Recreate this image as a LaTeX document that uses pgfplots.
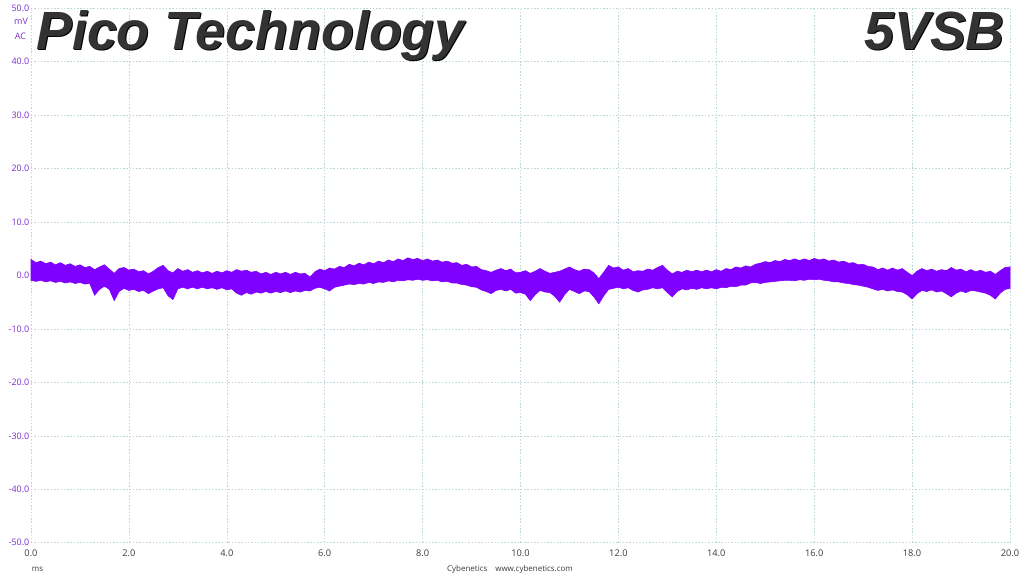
\documentclass[border=0pt]{standalone}
\usepackage{fontspec}
\setmainfont{Open Sans}
\newfontfamily\titlefont{Liberation Sans}
\usepackage{pgfplots}
\pgfplotsset{compat=1.18}
\definecolor{wave}{RGB}{127,0,255}
\definecolor{ylab}{RGB}{125,45,205}
\definecolor{gridc}{RGB}{188,214,220}
\definecolor{xlab}{RGB}{60,60,60}
\begin{document}
\begin{tikzpicture}
\path[use as bounding box, fill=white] (0,0) rectangle (1024bp,576bp);
\begin{axis}[
  at={(31bp,33.3bp)}, anchor=south west,
  scale only axis, width=979bp, height=534.4bp,
  xmin=0, xmax=20, ymin=-50, ymax=50,
  xtick={0,2,...,20}, ytick={-50,-40,...,50},
  xticklabels={0.0,2.0,4.0,6.0,8.0,10.0,12.0,14.0,16.0,18.0,20.0},
  yticklabels={-50.0,-40.0,-30.0,-20.0,-10.0,0.0,10.0,20.0,30.0,40.0,50.0},
  grid=major,
  major grid style={gridc, dash pattern=on 1.5pt off 1.8pt, line width=0.55pt},
  axis line style={draw=none}, tick style={draw=none},
  xticklabel style={font=\fontsize{9.3}{10}\selectfont, text=xlab, anchor=north, inner sep=0pt, yshift=-7bp},
  yticklabel style={font=\fontsize{9}{10}\selectfont, text=ylab, anchor=east, inner sep=0pt, xshift=-1.5bp},
  clip=false,
]
\addplot[draw=wave, fill=wave, line width=0.6pt, line join=miter] coordinates {
(0.0,3.0)(0.1,2.4)(0.2,2.7)(0.3,2.2)(0.4,2.5)(0.5,2.0)(0.6,2.4)(0.7,1.9)(0.8,2.2)(0.9,1.7)
(1.0,2.0)(1.1,1.5)(1.2,1.7)(1.3,1.1)(1.4,1.6)(1.5,2.0)(1.6,1.2)(1.7,0.4)(1.8,1.3)(1.9,1.5)
(2.0,1.0)(2.1,1.2)(2.2,0.7)(2.3,0.9)(2.4,0.3)(2.5,0.8)(2.6,1.5)(2.7,1.9)(2.8,0.9)(2.9,0.5)
(3.0,1.3)(3.1,0.8)(3.2,1.1)(3.3,0.6)(3.4,0.9)(3.5,0.5)(3.6,0.8)(3.7,0.4)(3.8,0.8)(3.9,0.5)
(4.0,0.9)(4.1,0.6)(4.2,1.1)(4.3,0.8)(4.4,1.0)(4.5,0.6)(4.6,0.8)(4.7,0.3)(4.8,0.6)(4.9,0.2)
(5.0,0.6)(5.1,0.3)(5.2,0.6)(5.3,0.2)(5.4,0.6)(5.5,0.3)(5.6,0.4)(5.7,-0.3)(5.8,0.7)(5.9,1.2)
(6.0,0.9)(6.1,1.4)(6.2,1.2)(6.3,1.7)(6.4,1.5)(6.5,2.1)(6.6,1.8)(6.7,2.3)(6.8,2.0)(6.9,2.5)
(7.0,2.2)(7.1,2.7)(7.2,2.4)(7.3,2.9)(7.4,2.6)(7.5,3.1)(7.6,2.8)(7.7,3.3)(7.8,3.0)(7.9,3.2)
(8.0,2.8)(8.1,3.1)(8.2,2.7)(8.3,2.9)(8.4,2.5)(8.5,2.7)(8.6,2.3)(8.7,2.4)(8.8,1.9)(8.9,2.1)
(9.0,1.6)(9.1,1.7)(9.2,1.1)(9.3,0.9)(9.4,0.6)(9.5,1.0)(9.6,1.3)(9.7,0.9)(9.8,1.2)(9.9,0.5)
(10.0,0.6)(10.1,0.9)(10.2,0.4)(10.3,0.8)(10.4,1.3)(10.5,0.8)(10.6,0.4)(10.7,0.6)(10.8,0.8)(10.9,1.2)
(11.0,1.6)(11.1,1.1)(11.2,0.8)(11.3,1.2)(11.4,1.1)(11.5,0.5)(11.6,-0.6)(11.7,0.6)(11.8,1.9)(11.9,1.4)
(12.0,1.6)(12.1,1.0)(12.2,1.3)(12.3,0.7)(12.4,0.9)(12.5,0.8)(12.6,1.2)(12.7,1.0)(12.8,1.5)(12.9,1.9)
(13.0,1.0)(13.1,0.3)(13.2,0.8)(13.3,0.6)(13.4,1.0)(13.5,0.7)(13.6,1.0)(13.7,0.7)(13.8,1.0)(13.9,0.7)
(14.0,1.1)(14.1,0.8)(14.2,1.3)(14.3,1.1)(14.4,1.6)(14.5,1.4)(14.6,1.8)(14.7,1.6)(14.8,2.1)(14.9,2.3)
(15.0,2.6)(15.1,2.4)(15.2,2.8)(15.3,2.6)(15.4,3.0)(15.5,2.8)(15.6,3.1)(15.7,2.8)(15.8,3.1)(15.9,2.8)
(16.0,3.2)(16.1,2.9)(16.2,3.1)(16.3,2.7)(16.4,2.9)(16.5,2.5)(16.6,2.7)(16.7,2.3)(16.8,2.4)(16.9,2.0)
(17.0,2.1)(17.1,1.7)(17.2,1.6)(17.3,1.1)(17.4,1.4)(17.5,1.0)(17.6,1.4)(17.7,1.0)(17.8,1.3)(17.9,0.6)
(18.0,0.0)(18.1,0.8)(18.2,1.3)(18.3,0.9)(18.4,1.2)(18.5,0.8)(18.6,1.1)(18.7,0.9)(18.8,1.5)(18.9,1.0)
(19.0,1.2)(19.1,0.7)(19.2,1.1)(19.3,0.7)(19.4,1.0)(19.5,0.6)(19.6,0.8)(19.7,0.2)(19.8,0.9)(19.9,1.5)
(20.0,1.6)
(20.0,-2.4)(19.9,-2.6)(19.8,-3.3)(19.7,-4.4)(19.6,-3.7)(19.5,-3.3)(19.4,-3.1)(19.3,-2.9)(19.2,-2.8)(19.1,-3.2)
(19.0,-2.9)(18.9,-3.3)(18.8,-4.0)(18.7,-3.4)(18.6,-2.9)(18.5,-3.1)(18.4,-2.7)(18.3,-3.0)(18.2,-2.8)(18.1,-3.4)
(18.0,-4.4)(17.9,-3.6)(17.8,-3.1)(17.7,-3.0)(17.6,-2.7)(17.5,-2.9)(17.4,-2.6)(17.3,-2.8)(17.2,-2.5)(17.1,-2.2)
(17.0,-2.0)(16.9,-1.8)(16.8,-1.7)(16.7,-1.5)(16.6,-1.4)(16.5,-1.2)(16.4,-1.2)(16.3,-1.0)(16.2,-0.9)(16.1,-0.7)
(16.0,-0.8)(15.9,-0.7)(15.8,-0.9)(15.7,-0.8)(15.6,-1.0)(15.5,-0.9)(15.4,-0.9)(15.3,-1.0)(15.2,-1.1)(15.1,-1.2)
(15.0,-1.3)(14.9,-1.5)(14.8,-1.3)(14.7,-1.4)(14.6,-1.8)(14.5,-1.8)(14.4,-2.1)(14.3,-2.0)(14.2,-2.3)(14.1,-2.2)
(14.0,-2.5)(13.9,-2.3)(13.8,-2.5)(13.7,-2.3)(13.6,-2.6)(13.5,-2.4)(13.4,-2.7)(13.3,-2.5)(13.2,-3.0)(13.1,-4.0)
(13.0,-3.2)(12.9,-2.3)(12.8,-2.5)(12.7,-2.3)(12.6,-2.6)(12.5,-2.7)(12.4,-3.1)(12.3,-2.8)(12.2,-2.3)(12.1,-2.5)
(12.0,-2.2)(11.9,-2.4)(11.8,-2.6)(11.7,-3.8)(11.6,-5.3)(11.5,-4.0)(11.4,-3.0)(11.3,-2.9)(11.2,-3.4)(11.1,-3.0)
(11.0,-2.6)(10.9,-3.6)(10.8,-5.0)(10.7,-3.9)(10.6,-3.2)(10.5,-3.1)(10.4,-2.8)(10.3,-3.6)(10.2,-4.7)(10.1,-3.5)
(10.0,-3.2)(9.9,-3.3)(9.8,-2.6)(9.7,-2.9)(9.6,-2.6)(9.5,-2.8)(9.4,-3.4)(9.3,-3.0)(9.2,-2.7)(9.1,-2.2)
(9.0,-2.1)(8.9,-1.8)(8.8,-1.7)(8.7,-1.4)(8.6,-1.4)(8.5,-1.1)(8.4,-1.2)(8.3,-0.9)(8.2,-1.0)(8.1,-0.8)
(8.0,-0.9)(7.9,-0.7)(7.8,-0.9)(7.7,-0.8)(7.6,-1.0)(7.5,-0.9)(7.4,-1.2)(7.3,-1.0)(7.2,-1.3)(7.1,-1.2)
(7.0,-1.5)(6.9,-1.3)(6.8,-1.6)(6.7,-1.5)(6.6,-1.7)(6.5,-1.6)(6.4,-1.8)(6.3,-2.0)(6.2,-2.2)(6.1,-2.9)
(6.0,-2.5)(5.9,-2.2)(5.8,-2.4)(5.7,-2.9)(5.6,-2.8)(5.5,-3.1)(5.4,-2.9)(5.3,-3.2)(5.2,-2.9)(5.1,-3.2)
(5.0,-3.0)(4.9,-3.3)(4.8,-3.0)(4.7,-3.3)(4.6,-3.1)(4.5,-3.5)(4.4,-3.2)(4.3,-3.7)(4.2,-3.3)(4.1,-2.5)
(4.0,-2.7)(3.9,-2.3)(3.8,-2.6)(3.7,-2.3)(3.6,-2.5)(3.5,-2.2)(3.4,-2.5)(3.3,-2.2)(3.2,-2.5)(3.1,-2.2)
(3.0,-2.5)(2.9,-4.5)(2.8,-3.8)(2.7,-2.3)(2.6,-2.5)(2.5,-2.9)(2.4,-3.4)(2.3,-2.8)(2.2,-3.0)(2.1,-2.6)
(2.0,-2.8)(1.9,-2.4)(1.8,-3.0)(1.7,-4.7)(1.6,-2.6)(1.5,-2.0)(1.4,-2.6)(1.3,-3.7)(1.2,-1.5)(1.1,-1.6)
(1.0,-1.3)(0.9,-1.5)(0.8,-1.2)(0.7,-1.4)(0.6,-1.1)(0.5,-1.3)(0.4,-1.0)(0.3,-1.2)(0.2,-0.9)(0.1,-1.1)
(0.0,-0.9)
} -- cycle;
\end{axis}
\node[font=\fontsize{9}{10}\selectfont, text=ylab] at (21bp,554.5bp) {mV};
\node[font=\fontsize{9}{10}\selectfont, text=ylab] at (20.5bp,539.3bp) {AC};
\node[font=\fontsize{8}{9}\selectfont, text=xlab] at (37.5bp,7bp) {ms};
\node[font=\fontsize{8}{9}\selectfont, text=xlab] at (510bp,7bp) {Cybenetics\quad www.cybenetics.com};
\node[anchor=base west, inner sep=0pt, font=\titlefont\bfseries\itshape\fontsize{54}{60}\selectfont, text=black] at (37bp,525bp) {Pico Technology};
\node[anchor=base west, inner sep=0pt, font=\titlefont\bfseries\itshape\fontsize{54}{60}\selectfont, text=black!80] at (36bp,526bp) {Pico Technology};
\node[anchor=base east, inner sep=0pt, font=\titlefont\bfseries\itshape\fontsize{54}{60}\selectfont, text=black] at (1006bp,525bp) {5VSB};
\node[anchor=base east, inner sep=0pt, font=\titlefont\bfseries\itshape\fontsize{54}{60}\selectfont, text=black!80] at (1005bp,526bp) {5VSB};
\end{tikzpicture}
\end{document}
